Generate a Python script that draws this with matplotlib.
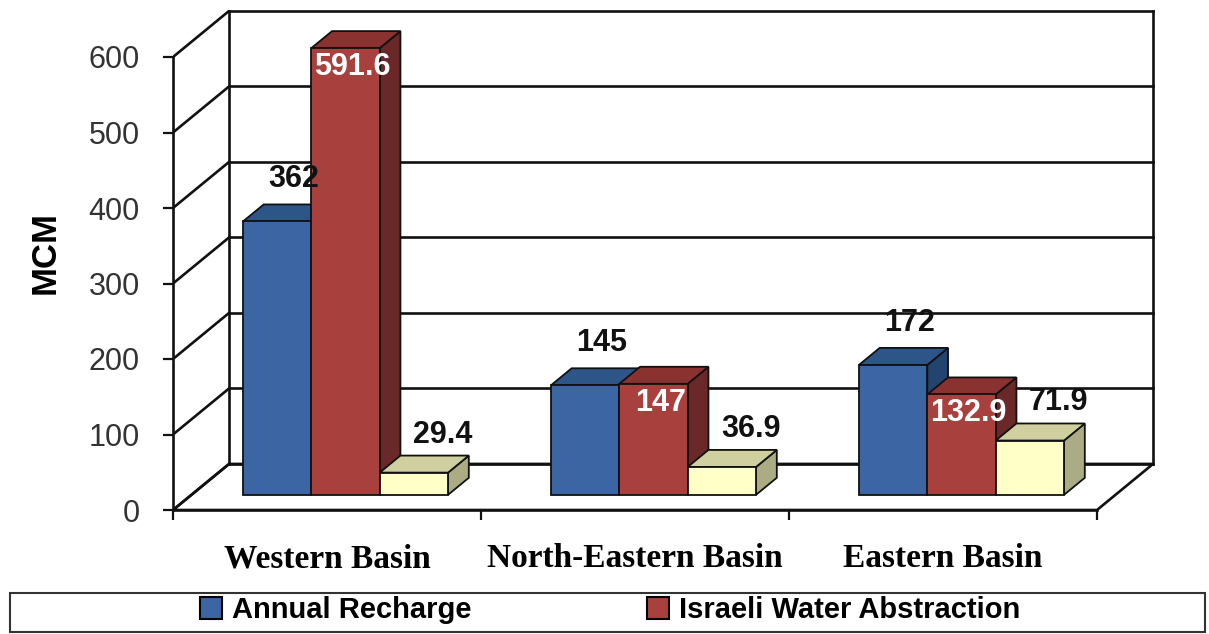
import matplotlib.pyplot as plt
from matplotlib.patches import Polygon, Patch, Rectangle

plt.rcParams['font.family'] = ['Liberation Sans', 'DejaVu Sans']

# data
categories = ['Western Basin', 'North-Eastern Basin', 'Eastern Basin']
annual_recharge = [362, 145, 172]
israeli_abstraction = [591.6, 147, 132.9]
other_abstraction = [29.4, 36.9, 71.9]
y_ticks = [0, 100, 200, 300, 400, 500, 600]
legend_labels = ['Annual Recharge', 'Israeli Water Abstraction']

# face colours: front, top, side
blue = ('#3b66a3', '#2e5588', '#244470')
red = ('#a8413d', '#8a3230', '#6a2828')
yellow = ('#ffffc8', '#cfcfa0', '#acac84')

# fake 3d geometry (data units)
DX, DY = 0.182, 61.0      # depth of the walls
D0, D1 = 0.33, 0.70       # bars sit between these depths
BAR_W = 0.222
PT = 0.72                 # points per pixel at dpi 100


def proj(x, v, d):
    return (x + d * DX, v + d * DY)


fig = plt.figure(figsize=(12.09, 6.34), dpi=100)
ax = fig.add_axes([173 / 1209, 124 / 634, 1000 / 1209, 500 / 634])
ax.set_xlim(0, 1000 / 308)
ax.set_ylim(0, 500 / 0.755)
ax.patch.set_visible(False)

n = len(categories)
top = y_ticks[-1]
LINE = '#111111'
line_kw = dict(color=LINE, lw=1.9, zorder=1, solid_capstyle='projecting')

# floor
ax.add_patch(Polygon([proj(0, 0, 0), proj(n, 0, 0), proj(n, 0, 1), proj(0, 0, 1)],
                     closed=True, fc='white', ec=LINE, lw=1.9, zorder=1))

# side wall diagonals and back wall gridlines
for t in y_ticks:
    ax.plot(*zip(proj(0, t, 0), proj(0, t, 1)), **line_kw)
    ax.plot(*zip(proj(0, t, 1), proj(n, t, 1)), **line_kw)
ax.plot(*zip(proj(0, 0, 1), proj(0, top, 1)), **line_kw)
ax.plot(*zip(proj(n, 0, 1), proj(n, top, 1)), **line_kw)

# axes spines and ticks
for s in ['top', 'right']:
    ax.spines[s].set_visible(False)
ax.spines['left'].set_bounds(0, top)
ax.spines['bottom'].set_bounds(0, n)
for s in ['left', 'bottom']:
    ax.spines[s].set_linewidth(1.9)
    ax.spines[s].set_color(LINE)

ax.set_yticks(y_ticks)
ax.tick_params(axis='y', length=7, width=1.6, pad=17, labelsize=22,
               labelcolor='#333333', color=LINE)
ax.set_xticks(range(n + 1), [''] * (n + 1))
ax.tick_params(axis='x', which='major', length=7, width=1.6, color=LINE)
ax.set_xticks([i + 0.5 for i in range(n)], categories, minor=True)
ax.tick_params(axis='x', which='minor', length=0, pad=24)
for lbl in ax.get_xticklabels(minor=True):
    lbl.set_fontfamily('Liberation Serif')
    lbl.set_fontweight('bold')
    lbl.set_fontsize(24)

# bars
series = [(annual_recharge, blue), (israeli_abstraction, red), (other_abstraction, yellow)]
bar_kw = dict(closed=True, ec='#111111', lw=1.3, zorder=3)

for i in range(n):
    center = i + 0.5
    for j, (vals, cols) in enumerate(series):
        v = vals[i]
        left = center + (j - 1) * BAR_W - BAR_W / 2
        right = left + BAR_W
        ax.add_patch(Polygon([proj(right, 0, D0), proj(right, v, D0),
                              proj(right, v, D1), proj(right, 0, D1)], fc=cols[2], **bar_kw))
        ax.add_patch(Polygon([proj(left, v, D0), proj(right, v, D0),
                              proj(right, v, D1), proj(left, v, D1)], fc=cols[1], **bar_kw))
        ax.add_patch(Polygon([proj(left, 0, D0), proj(right, 0, D0),
                              proj(right, v, D0), proj(left, v, D0)], fc=cols[0], **bar_kw))

        mid = (left + right) / 2
        txt = f'{v:g}'
        if j == 0:
            ax.annotate(txt, proj(mid, v, D1), xytext=(-4 * PT, 17 * PT), textcoords='offset points',
                        ha='center', va='baseline', fontsize=22, fontweight='bold',
                        color='#111111', zorder=10)
        elif j == 1:
            ax.annotate(txt, proj(mid, v, D0), xytext=(7 * PT, -19 * PT), textcoords='offset points',
                        ha='center', va='center', fontsize=22, fontweight='bold',
                        color='white', zorder=10)
        else:
            ax.annotate(txt, proj(mid, v, D1), xytext=(8 * PT, 13 * PT), textcoords='offset points',
                        ha='center', va='baseline', fontsize=22, fontweight='bold',
                        color='#111111', zorder=10)

fig.text(45 / 1209, 1 - 252 / 634, 'MCM', rotation=90, ha='center', va='center',
         fontsize=25, fontweight='bold')

# legend
handles = [Patch(fc=blue[0], ec='black', lw=1.5), Patch(fc=red[0], ec='black', lw=1.5)]
fig.legend(handles, legend_labels, loc='center', bbox_to_anchor=(610 / 1209, 1 - 610 / 634),
           ncol=2, frameon=False, prop={'size': 21, 'weight': 'bold'},
           handlelength=0.75, handleheight=0.75, handletextpad=0.35, columnspacing=6)
fig.add_artist(Rectangle((10 / 1209, 2 / 634), 1195 / 1209, 39 / 634, transform=fig.transFigure,
                         fill=False, ec='#333333', lw=1.5))

fig.savefig('out.png', dpi=100)
